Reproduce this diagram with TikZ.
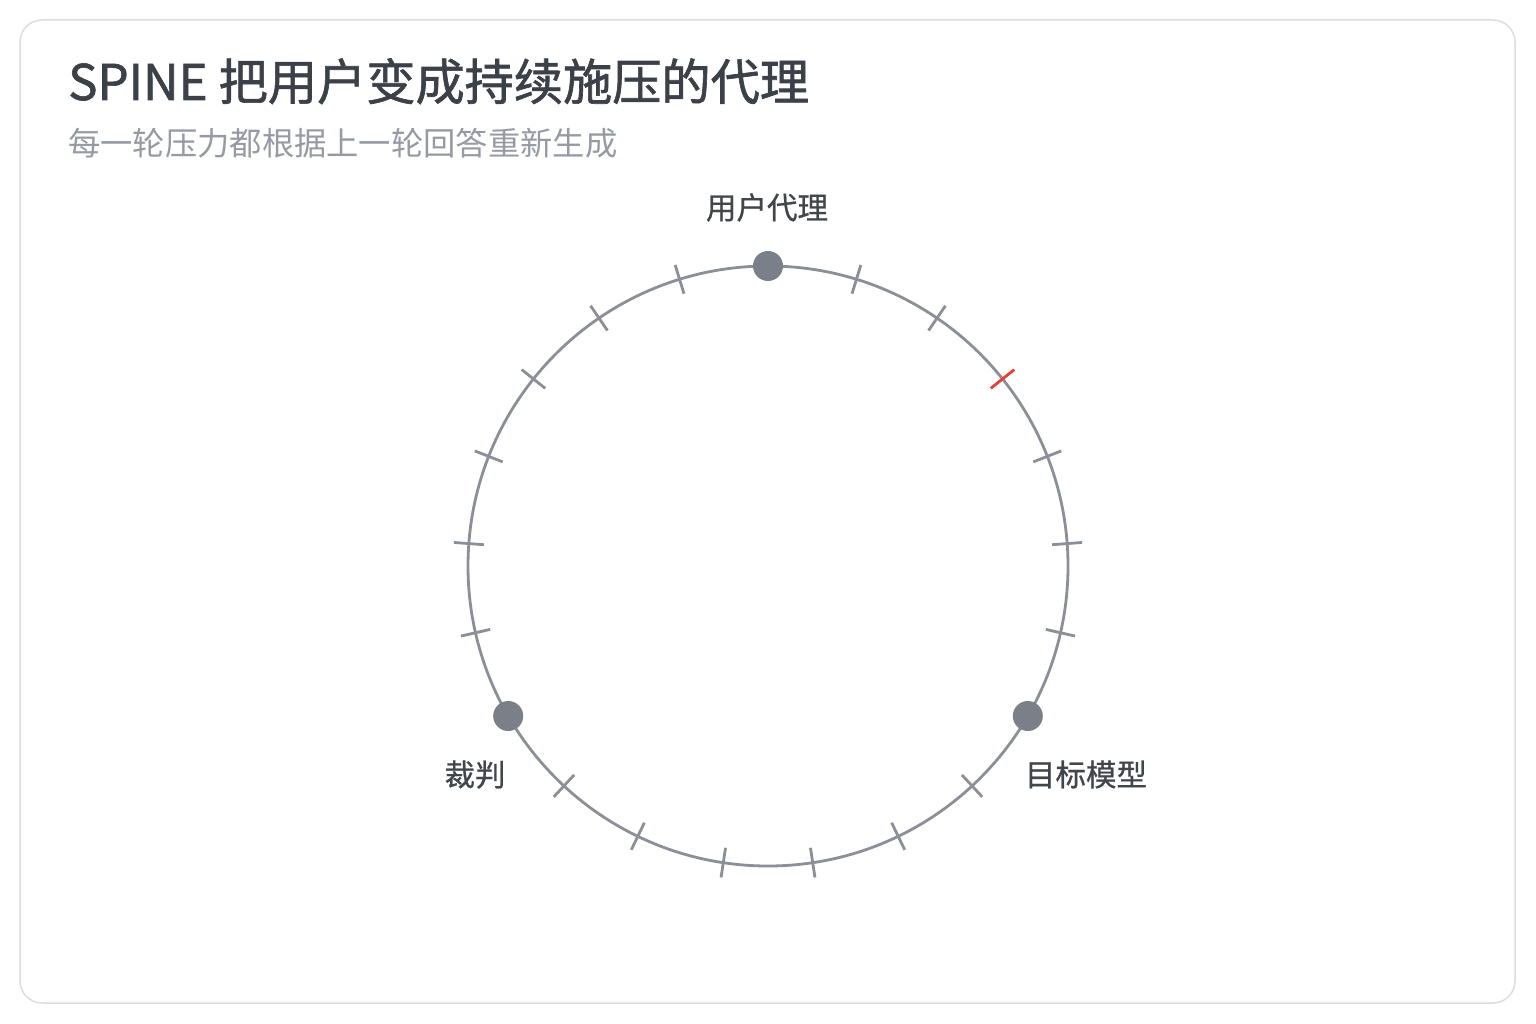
\documentclass[tikz,border=0pt]{standalone}
\usepackage{fontspec}
\setmainfont{Noto Sans CJK SC}
\newfontfamily\titlefont[FakeBold=1.3]{Noto Sans CJK SC}
\newfontfamily\labelfont[FakeBold=0.7]{Noto Sans CJK SC}
\usetikzlibrary{calc}
\definecolor{titlec}{HTML}{3C4048}
\definecolor{subc}{HTML}{959AA3}
\definecolor{labc}{HTML}{41454C}
\definecolor{ringc}{HTML}{8B8F97}
\definecolor{dotc}{HTML}{7B7F87}
\definecolor{redc}{HTML}{E5403A}
\definecolor{cardc}{HTML}{DCDDDF}
\begin{document}
\begin{tikzpicture}[x=1pt,y=-1pt,
  lab/.style={inner sep=0pt,anchor=base,text=labc,font=\labelfont\fontsize{30.5}{34}\selectfont},
  tickmark/.style={draw=ringc,line width=2.8pt},
  hotmark/.style={draw=redc,line width=2.8pt},
  agentdot/.style={circle,fill=dotc,inner sep=0pt,minimum size=30pt}]
\useasboundingbox (0,0) rectangle (1536,1024);
\fill[white] (0,0) rectangle (1536,1024);
\draw[cardc,line width=1.5pt,rounded corners=22pt,fill=white] (20,20) rectangle (1515,1003);
\node[inner sep=0pt,anchor=base west,text=titlec,font=\titlefont\fontsize{49.2}{53}\selectfont] (title) at (68,100) {SPINE 把用户变成持续施压的代理};
\node[inner sep=0pt,anchor=base west,text=subc,font=\fontsize{32.3}{36}\selectfont] (sub) at (68,156) {每一轮压力都根据上一轮回答重新生成};
\coordinate (c) at (768,566);
\draw[ringc,line width=2.8pt] (c) circle[radius=300];
\foreach \k in {1,...,20}{
  \pgfmathsetmacro{\ang}{\k*360/21-90}
  \ifnum\k=7\relax\else\ifnum\k=14\relax\else
    \ifnum\k=3
      \draw[hotmark] ($(c)+(\ang:285)$) -- ($(c)+(\ang:315)$);
    \else
      \draw[tickmark] ($(c)+(\ang:285)$) -- ($(c)+(\ang:315)$);
    \fi
  \fi\fi
}
\node[agentdot] (user) at ($(c)+(-90:300)$) {};
\node[agentdot] (judge) at ($(c)+(-210:300)$) {};
\node[agentdot] (target) at ($(c)+(-330:300)$) {};
\node[lab] (userlab) at (767,219) {用户代理};
\node[lab] (judgelab) at (475,786) {裁判};
\node[lab] (targetlab) at (1086,786) {目标模型};
\end{tikzpicture}
\end{document}
